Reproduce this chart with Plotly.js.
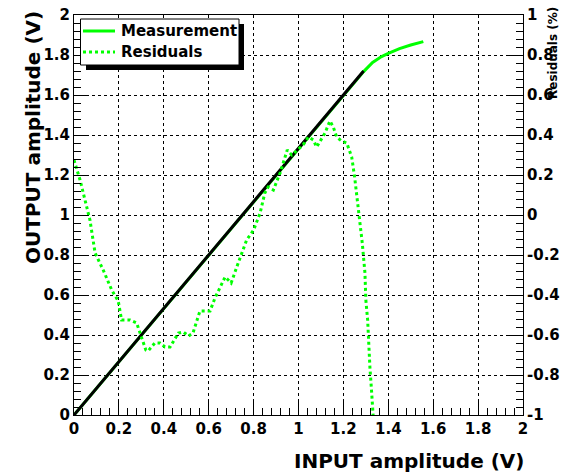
<!DOCTYPE html>
<html>
<head>
<meta charset="utf-8">
<script src="https://cdn.plot.ly/plotly-3.0.1.min.js"></script>
<style>html,body{margin:0;padding:0;background:#fff;}#chart{width:564px;height:474px;}</style>
</head>
<body>
<div id="chart"></div>
<script>
// Measurement (INPUT V -> OUTPUT V)
const measX = [0, 0.2, 0.4, 0.6, 0.8, 1.0, 1.2, 1.29, 1.33, 1.37, 1.4, 1.45, 1.5, 1.556];
const measY = [0, 0.267, 0.533, 0.8, 1.067, 1.333, 1.6, 1.717, 1.763, 1.792, 1.808, 1.832, 1.85, 1.867];
// Linear fit (drawn black)
const fitX = [0, 1.29];
const fitY = [0, 1.72];
// Residuals (%)
const resX = [0, 0.027, 0.049, 0.071, 0.094, 0.13, 0.168, 0.197, 0.212, 0.249, 0.279, 0.30, 0.32, 0.33, 0.36, 0.383, 0.405, 0.428, 0.465, 0.487, 0.51, 0.53, 0.561, 0.583, 0.606, 0.628, 0.65, 0.673, 0.687, 0.70, 0.725, 0.747, 0.769, 0.80, 0.829, 0.85, 0.865, 0.888, 0.918, 0.95, 0.97, 0.99, 1.02, 1.044, 1.066, 1.081, 1.096, 1.118, 1.14, 1.155, 1.17, 1.192, 1.215, 1.237, 1.25, 1.26, 1.274, 1.284, 1.296, 1.30, 1.308, 1.311, 1.318, 1.326, 1.33, 1.335];
const resY = [0.275, 0.175, 0.075, -0.025, -0.19, -0.275, -0.375, -0.43, -0.525, -0.525, -0.54, -0.61, -0.675, -0.68, -0.64, -0.64, -0.66, -0.66, -0.59, -0.585, -0.605, -0.59, -0.48, -0.48, -0.48, -0.415, -0.36, -0.31, -0.325, -0.34, -0.26, -0.19, -0.125, -0.075, 0.01, 0.11, 0.14, 0.125, 0.21, 0.325, 0.30, 0.32, 0.35, 0.39, 0.375, 0.34, 0.37, 0.41, 0.47, 0.44, 0.39, 0.37, 0.36, 0.29, 0.19, 0.09, -0.025, -0.14, -0.29, -0.425, -0.525, -0.61, -0.76, -0.89, -1.0, -1.05];
// Tick labels
const xTickVals = [0, 0.2, 0.4, 0.6, 0.8, 1, 1.2, 1.4, 1.6, 1.8, 2];
const xTickText = ["0", "0.2", "0.4", "0.6", "0.8", "1", "1.2", "1.4", "1.6", "1.8", "2"];
const yTickVals = [0, 0.2, 0.4, 0.6, 0.8, 1, 1.2, 1.4, 1.6, 1.8, 2];
const yTickText = ["0", "0.2", "0.4", "0.6", "0.8", "1", "1.2", "1.4", "1.6", "1.8", "2"];
const y2TickVals = [-1, -0.8, -0.6, -0.4, -0.2, 0, 0.2, 0.4, 0.6, 0.8, 1];
const y2TickText = ["-1", "-0.8", "-0.6", "-0.4", "-0.2", "0", "0.2", "0.4", "0.6", "0.8", "1"];
// Legend entries
const legendNames = ["Measurement", "Residuals"];

const FONT = "DejaVu Sans, Verdana, sans-serif";
const GREEN = "#00ff00";

const traces = [
  {x: measX, y: measY, type: "scatter", mode: "lines", name: legendNames[0],
   line: {color: GREEN, width: 3}, xaxis: "x", yaxis: "y", hoverinfo: "skip"},
  {x: fitX, y: fitY, type: "scatter", mode: "lines", name: "Fit",
   line: {color: "#000000", width: 3}, xaxis: "x", yaxis: "y", hoverinfo: "skip"},
  {x: resX, y: resY, type: "scatter", mode: "lines", name: legendNames[1],
   line: {color: GREEN, width: 3, dash: "dot"}, xaxis: "x", yaxis: "y2", hoverinfo: "skip"}
];

const tickFont = {family: FONT, size: 15, color: "#000", weight: "bold"};

// legend box geometry in paper units
const PX = v => (v - 74) / 449;
const PY = v => (415 - v) / 400;

const layout = {
  width: 564, height: 474,
  margin: {l: 74, r: 41, t: 15, b: 59, pad: 0},
  paper_bgcolor: "#fff", plot_bgcolor: "#fff",
  showlegend: false,
  xaxis: {
    range: [0, 2], tickvals: xTickVals, ticktext: xTickText,
    ticks: "inside", ticklen: 14, tickwidth: 1, tickcolor: "#000",
    minor: {dtick: 0.04, ticks: "inside", ticklen: 7, tickcolor: "#000", showgrid: false},
    showline: true, linecolor: "#000", linewidth: 1, mirror: true,
    showgrid: true, gridcolor: "#000", gridwidth: 1, griddash: "dot",
    zeroline: false, tickfont: tickFont, fixedrange: true
  },
  yaxis: {
    range: [0, 2], tickvals: yTickVals, ticktext: yTickText,
    ticks: "inside", ticklen: 14, tickwidth: 1, tickcolor: "#000",
    minor: {dtick: 0.04, ticks: "inside", ticklen: 7, tickcolor: "#000", showgrid: false},
    showline: true, linecolor: "#000", linewidth: 1,
    showgrid: true, gridcolor: "#000", gridwidth: 1, griddash: "dot",
    zeroline: false, tickfont: tickFont, fixedrange: true
  },
  yaxis2: {
    range: [-1, 1], overlaying: "y", side: "right",
    tickvals: y2TickVals, ticktext: y2TickText,
    ticks: "inside", ticklen: 14, tickwidth: 1, tickcolor: "#000",
    minor: {dtick: 0.04, ticks: "inside", ticklen: 7, tickcolor: "#000", showgrid: false},
    showline: true, linecolor: "#000", linewidth: 1,
    showgrid: false, zeroline: false, tickfont: tickFont, fixedrange: true
  },
  shapes: [
    // legend shadow
    {type: "rect", xref: "paper", yref: "paper", layer: "above",
     x0: PX(86), x1: PX(244), y0: PY(70), y1: PY(24),
     fillcolor: "#000", line: {width: 0}},
    // legend box
    {type: "rect", xref: "paper", yref: "paper", layer: "above",
     x0: PX(80.5), x1: PX(239), y0: PY(65), y1: PY(19),
     fillcolor: "#fff", line: {color: "#000", width: 1}},
    // legend samples
    {type: "line", xref: "paper", yref: "paper", layer: "above",
     x0: PX(83), x1: PX(115), y0: PY(31), y1: PY(31),
     line: {color: GREEN, width: 3}},
    {type: "line", xref: "paper", yref: "paper", layer: "above",
     x0: PX(83), x1: PX(115), y0: PY(52), y1: PY(52),
     line: {color: GREEN, width: 3, dash: "dot"}}
  ],
  annotations: [
    {text: legendNames[0], xref: "paper", yref: "paper", x: PX(119), y: PY(31),
     xanchor: "left", yanchor: "middle", showarrow: false,
     font: {family: FONT, size: 15, color: "#000", weight: "bold"}},
    {text: legendNames[1], xref: "paper", yref: "paper", x: PX(119), y: PY(52),
     xanchor: "left", yanchor: "middle", showarrow: false,
     font: {family: FONT, size: 15, color: "#000", weight: "bold"}},
    {text: "INPUT amplitude (V)", xref: "paper", yref: "paper", x: PX(526), y: PY(461),
     xanchor: "right", yanchor: "middle", showarrow: false,
     font: {family: FONT, size: 20, color: "#000", weight: "bold"}},
    {text: "OUTPUT amplitude (V)", xref: "paper", yref: "paper", x: PX(33), y: PY(138),
     xanchor: "center", yanchor: "middle", textangle: -90, showarrow: false,
     font: {family: FONT, size: 20, color: "#000", weight: "bold"}},
    {text: "Residuals (%)", xref: "paper", yref: "paper", x: PX(553), y: PY(53),
     xanchor: "center", yanchor: "middle", textangle: -90, showarrow: false,
     font: {family: FONT, size: 12, color: "#000", weight: "bold"}}
  ]
};

Plotly.newPlot("chart", traces, layout, {staticPlot: true, displayModeBar: false});
</script>
</body>
</html>
